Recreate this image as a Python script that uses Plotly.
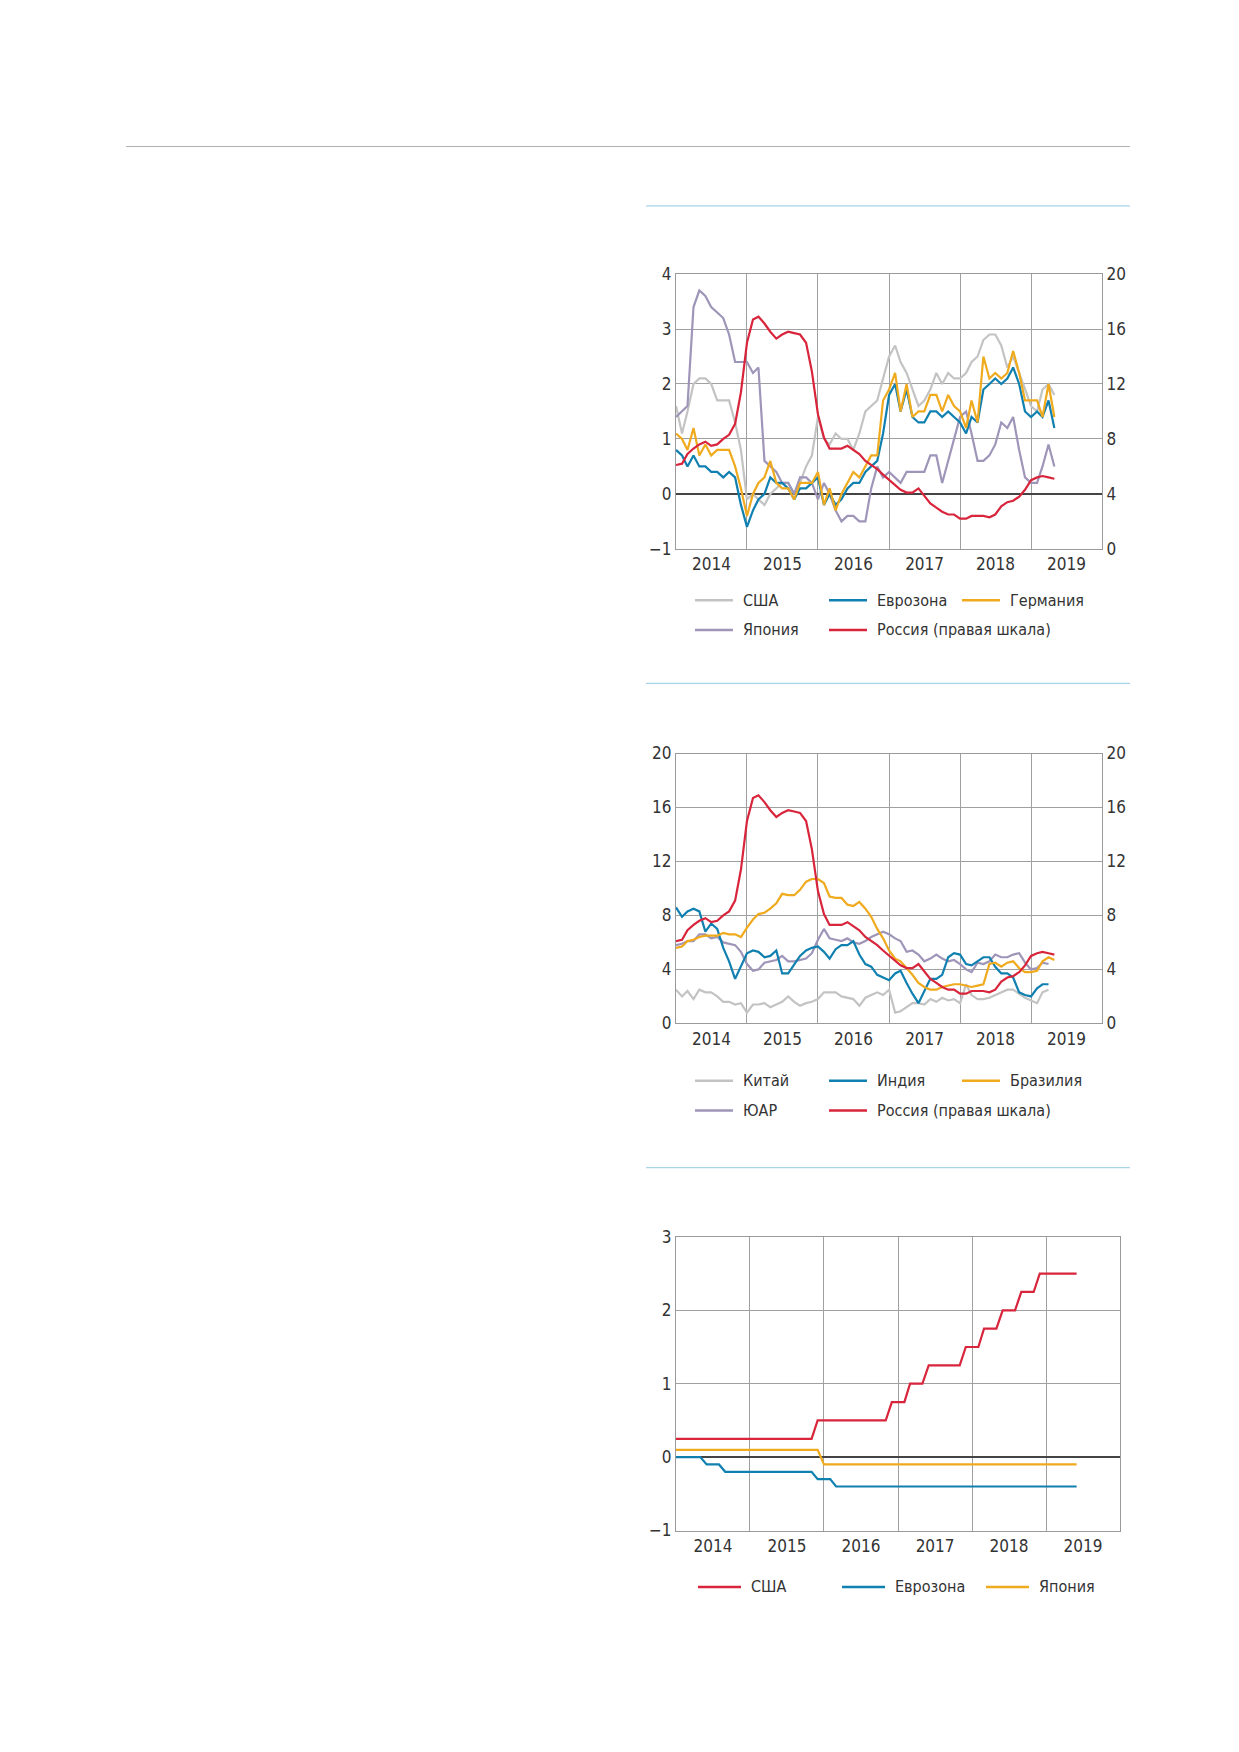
import pandas as pd
import plotly.graph_objects as go

W, H = 1239, 1752

# месяцы
dates1 = pd.date_range("2014-01-01", periods=65, freq="MS")
dates2 = pd.date_range("2014-01-01", periods=65, freq="MS")
dates3 = pd.date_range("2014-01-01", periods=66, freq="MS")

# График 1: инфляция в развитых странах, %
usa = [1.6, 1.1, 1.5, 2.0, 2.1, 2.1, 2.0, 1.7, 1.7, 1.7, 1.3, 0.8,
       -0.1, 0.0, -0.1, -0.2, 0.0, 0.1, 0.2, 0.2, 0.0, 0.2, 0.5, 0.7,
       1.4, 1.0, 0.9, 1.1, 1.0, 1.0, 0.8, 1.1, 1.5, 1.6, 1.7, 2.1,
       2.5, 2.7, 2.4, 2.2, 1.9, 1.6, 1.7, 1.9, 2.2, 2.0, 2.2, 2.1,
       2.1, 2.2, 2.4, 2.5, 2.8, 2.9, 2.9, 2.7, 2.3, 2.5, 2.2, 1.9,
       1.6, 1.5, 1.9, 2.0, 1.8]
eurozone = [0.8, 0.7, 0.5, 0.7, 0.5, 0.5, 0.4, 0.4, 0.3, 0.4, 0.3, -0.2,
            -0.6, -0.3, -0.1, 0.0, 0.3, 0.2, 0.2, 0.1, -0.1, 0.1, 0.1, 0.2,
            0.3, -0.2, 0.0, -0.2, -0.1, 0.1, 0.2, 0.2, 0.4, 0.5, 0.6, 1.1,
            1.8, 2.0, 1.5, 1.9, 1.4, 1.3, 1.3, 1.5, 1.5, 1.4, 1.5, 1.4,
            1.3, 1.1, 1.4, 1.3, 1.9, 2.0, 2.1, 2.0, 2.1, 2.3, 2.0, 1.5,
            1.4, 1.5, 1.4, 1.7, 1.2]
germany = [1.1, 1.0, 0.8, 1.2, 0.7, 0.9, 0.7, 0.8, 0.8, 0.8, 0.5, 0.1,
           -0.4, 0.0, 0.2, 0.3, 0.6, 0.2, 0.1, 0.1, -0.1, 0.2, 0.2, 0.2,
           0.4, -0.2, 0.1, -0.3, 0.0, 0.2, 0.4, 0.3, 0.5, 0.7, 0.7, 1.7,
           1.9, 2.2, 1.5, 2.0, 1.4, 1.5, 1.5, 1.8, 1.8, 1.5, 1.8, 1.6,
           1.5, 1.2, 1.7, 1.3, 2.5, 2.1, 2.2, 2.1, 2.2, 2.6, 2.2, 1.7,
           1.7, 1.7, 1.4, 2.0, 1.4]
japan = [1.4, 1.5, 1.6, 3.4, 3.7, 3.6, 3.4, 3.3, 3.2, 2.9, 2.4, 2.4,
         2.4, 2.2, 2.3, 0.6, 0.5, 0.4, 0.2, 0.2, 0.0, 0.3, 0.3, 0.2,
         -0.1, 0.2, 0.0, -0.3, -0.5, -0.4, -0.4, -0.5, -0.5, 0.1, 0.5, 0.3,
         0.4, 0.3, 0.2, 0.4, 0.4, 0.4, 0.4, 0.7, 0.7, 0.2, 0.6, 1.0,
         1.4, 1.5, 1.1, 0.6, 0.6, 0.7, 0.9, 1.3, 1.2, 1.4, 0.8, 0.3,
         0.2, 0.2, 0.5, 0.9, 0.5]
russia = [6.1, 6.2, 6.9, 7.3, 7.6, 7.8, 7.5, 7.6, 8.0, 8.3, 9.1, 11.4,
          15.0, 16.7, 16.9, 16.4, 15.8, 15.3, 15.6, 15.8, 15.7, 15.6, 15.0, 12.9,
          9.8, 8.1, 7.3, 7.3, 7.3, 7.5, 7.2, 6.9, 6.4, 6.1, 5.8, 5.4,
          5.0, 4.6, 4.3, 4.1, 4.1, 4.4, 3.9, 3.3, 3.0, 2.7, 2.5, 2.5,
          2.2, 2.2, 2.4, 2.4, 2.4, 2.3, 2.5, 3.1, 3.4, 3.5, 3.8, 4.3,
          5.0, 5.2, 5.3, 5.2, 5.1]

# График 2: инфляция в развивающихся странах, %
china = [2.5, 2.0, 2.4, 1.8, 2.5, 2.3, 2.3, 2.0, 1.6, 1.6, 1.4, 1.5,
         0.8, 1.4, 1.4, 1.5, 1.2, 1.4, 1.6, 2.0, 1.6, 1.3, 1.5, 1.6,
         1.8, 2.3, 2.3, 2.3, 2.0, 1.9, 1.8, 1.3, 1.9, 2.1, 2.3, 2.1,
         2.5, 0.8, 0.9, 1.2, 1.5, 1.5, 1.4, 1.8, 1.6, 1.9, 1.7, 1.8,
         1.5, 2.9, 2.1, 1.8, 1.8, 1.9, 2.1, 2.3, 2.5, 2.5, 2.2, 1.9,
         1.7, 1.5, 2.3, 2.5]
india = [8.6, 7.9, 8.3, 8.5, 8.3, 6.8, 7.4, 7.0, 5.6, 4.6, 3.3, 4.3,
         5.2, 5.4, 5.3, 4.9, 5.0, 5.4, 3.7, 3.7, 4.4, 5.0, 5.4, 5.6,
         5.7, 5.3, 4.8, 5.5, 5.8, 5.8, 6.1, 5.1, 4.4, 4.2, 3.6, 3.4,
         3.2, 3.7, 3.9, 3.0, 2.2, 1.5, 2.4, 3.3, 3.3, 3.6, 4.9, 5.2,
         5.1, 4.4, 4.3, 4.6, 4.9, 4.9, 4.2, 3.7, 3.7, 3.4, 2.3, 2.1,
         2.0, 2.6, 2.9, 2.9]
brazil = [5.6, 5.7, 6.1, 6.2, 6.4, 6.5, 6.5, 6.5, 6.7, 6.6, 6.6, 6.4,
          7.1, 7.7, 8.1, 8.2, 8.5, 8.9, 9.6, 9.5, 9.5, 9.9, 10.5, 10.7,
          10.7, 10.4, 9.4, 9.3, 9.3, 8.8, 8.7, 9.0, 8.5, 7.9, 7.0, 6.3,
          5.4, 4.8, 4.6, 4.1, 3.6, 3.0, 2.7, 2.5, 2.5, 2.7, 2.8, 2.9,
          2.9, 2.8, 2.7, 2.8, 2.9, 4.4, 4.5, 4.2, 4.5, 4.6, 4.1, 3.8,
          3.8, 3.9, 4.6, 4.9, 4.7]
sa = [5.8, 5.9, 6.1, 6.1, 6.6, 6.6, 6.3, 6.4, 6.0, 5.9, 5.8, 5.3,
      4.4, 3.9, 4.0, 4.5, 4.6, 4.7, 5.0, 4.6, 4.6, 4.7, 4.8, 5.2,
      6.2, 7.0, 6.3, 6.2, 6.1, 6.3, 6.0, 5.9, 6.1, 6.4, 6.6, 6.8,
      6.6, 6.3, 6.1, 5.3, 5.4, 5.1, 4.6, 4.8, 5.1, 4.8, 4.6, 4.7,
      4.4, 4.0, 3.8, 4.5, 4.4, 4.6, 5.1, 4.9, 4.9, 5.1, 5.2, 4.5,
      4.0, 4.1, 4.5, 4.4]

# График 3: ключевые ставки, %
rate_usa = [0.25] * 23 + [0.5] * 12 + [0.75] * 3 + [1.0] * 3 + [1.25] * 6 + \
           [1.5] * 3 + [1.75] * 3 + [2.0] * 3 + [2.25] * 3 + [2.5] * 7
rate_ez = [0.0] * 5 + [-0.1] * 3 + [-0.2] * 15 + [-0.3] * 3 + [-0.4] * 40
rate_jp = [0.1] * 24 + [-0.1] * 42

GREY = "#c3c3c3"
BLUE = "#1080b0"
ORANGE = "#f0aa1e"
PURPLE = "#9e95b8"
RED = "#d8253c"
FONT = "Liberation Sans Narrow, DejaVu Sans Condensed, sans-serif"


def px(x):
    return x / W


def py(y):
    return 1 - y / H


fig = go.Figure()


def add(x, y, color, xa, ya):
    fig.add_trace(go.Scatter(x=x, y=y, mode="lines", line=dict(color=color, width=2.2),
                             xaxis=xa, yaxis=ya, showlegend=False))


add(dates1, usa, GREY, "x", "y")
add(dates1, japan, PURPLE, "x", "y")
add(dates1, eurozone, BLUE, "x", "y")
add(dates1, germany, ORANGE, "x", "y")
add(dates1, russia, RED, "x", "y2")

add(dates2[:64], china, GREY, "x2", "y3")
add(dates2[:64], sa, PURPLE, "x2", "y3")
add(dates2[:64], india, BLUE, "x2", "y3")
add(dates2, brazil, ORANGE, "x2", "y3")
add(dates2, russia, RED, "x2", "y4")

add(dates3, rate_jp, ORANGE, "x3", "y5")
add(dates3, rate_ez, BLUE, "x3", "y5")
add(dates3, rate_usa, RED, "x3", "y5")

xcommon = dict(type="date", range=["2014-01-01", "2020-01-01"], dtick="M12",
               tick0="2014-01-01", ticklabelmode="period", tickformat="%Y",
               showgrid=True, gridcolor="#a0a0a0", gridwidth=1, ticks="",
               showline=True, linecolor="#9a9a9a", linewidth=1.2, mirror=True,
               tickfont=dict(size=17, color="#333"), zeroline=False)
ycommon = dict(showgrid=True, gridcolor="#a0a0a0", gridwidth=1, ticks="",
               showline=True, linecolor="#9a9a9a", linewidth=1.2,
               tickfont=dict(size=17, color="#333"), zeroline=False)

d1 = [px(668), px(1094)]
d3 = [px(668), px(1112)]
fig.update_layout(
    width=W, height=H, margin=dict(l=0, r=0, t=0, b=0),
    paper_bgcolor="white", plot_bgcolor="white",
    font=dict(family=FONT, color="#333"),
    xaxis=dict(xcommon, domain=d1, anchor="y"),
    yaxis=dict(ycommon, domain=[py(537), py(259)], range=[-1, 4], dtick=1,
               zeroline=True, zerolinecolor="#444", zerolinewidth=2, anchor="x"),
    yaxis2=dict(ycommon, overlaying="y", side="right", range=[0, 20], dtick=4,
                showgrid=False, anchor="x"),
    xaxis2=dict(xcommon, domain=d1, anchor="y3"),
    yaxis3=dict(ycommon, domain=[py(1017), py(744)], range=[0, 20], dtick=4, anchor="x2"),
    yaxis4=dict(ycommon, overlaying="y3", side="right", range=[0, 20], dtick=4,
                showgrid=False, anchor="x2"),
    xaxis3=dict(xcommon, domain=d3, anchor="y5"),
    yaxis5=dict(ycommon, domain=[py(1530), py(1233)], range=[-1, 3], dtick=1,
                mirror=True, zeroline=True, zerolinecolor="#444", zerolinewidth=2,
                anchor="x3"),
)

# разделительные линии
shapes = [dict(type="line", xref="paper", yref="paper", x0=px(118), x1=px(1122),
               y0=py(130), y1=py(130), line=dict(color="#b0b0b0", width=1.2))]
for yy in [190, 673, 1163]:
    shapes.append(dict(type="line", xref="paper", yref="paper", x0=px(638), x1=px(1122),
                       y0=py(yy), y1=py(yy), line=dict(color="#a9d5e8", width=1.2)))

annotations = []


def legend_item(x0, y, text, color, length=38):
    shapes.append(dict(type="line", xref="paper", yref="paper", x0=px(x0), x1=px(x0 + length),
                       y0=py(y), y1=py(y), line=dict(color=color, width=2.5)))
    annotations.append(dict(xref="paper", yref="paper", x=px(x0 + length + 8), y=py(y),
                            text=text, showarrow=False, xanchor="left", yanchor="middle",
                            font=dict(size=16, color="#333", family=FONT)))


legend_item(687, 589, "США", GREY)
legend_item(821, 589, "Еврозона", BLUE)
legend_item(954, 589, "Германия", ORANGE)
legend_item(687, 619, "Япония", PURPLE)
legend_item(821, 619, "Россия (правая шкала)", RED)

legend_item(687, 1075, "Китай", GREY)
legend_item(821, 1075, "Индия", BLUE)
legend_item(954, 1075, "Бразилия", ORANGE)
legend_item(687, 1105, "ЮАР", PURPLE)
legend_item(821, 1105, "Россия (правая шкала)", RED)

legend_item(690, 1587, "США", RED, 43)
legend_item(834, 1587, "Еврозона", BLUE, 43)
legend_item(978, 1587, "Япония", ORANGE, 43)

fig.update_layout(shapes=shapes, annotations=annotations)
fig.write_html("out.html")
